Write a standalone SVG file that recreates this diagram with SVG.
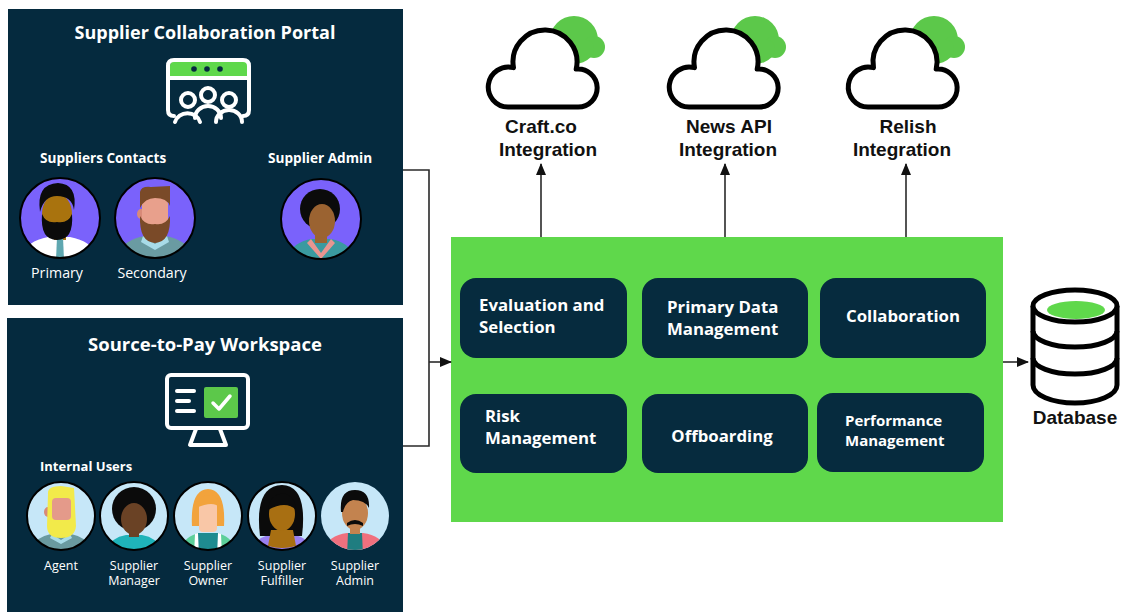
<svg xmlns="http://www.w3.org/2000/svg" width="1125" height="612" viewBox="0 0 1125 612">
  <style>
    .panel { fill: #052a3e; }
    .module { fill: #062b3e; }
    .ttl { font-family: "Open Sans", "Noto Sans", sans-serif; font-weight: 700; fill: #ffffff; }
    .lbl { font-family: "Open Sans", "Noto Sans", sans-serif; font-weight: 400; fill: #ffffff; font-size: 12.5px; text-anchor: middle; }
    .mod { font-family: "Open Sans", "Noto Sans", sans-serif; font-weight: 700; fill: #ffffff; font-size: 16.8px; }
    .ext { font-family: "Liberation Sans", Arial, sans-serif; font-weight: 700; fill: #111111; font-size: 19px; text-anchor: middle; }
    .wire { fill: none; stroke: #2a2a2a; stroke-width: 1.6; }
    .ring { fill: none; stroke: #000000; stroke-width: 2; }
    .icon { fill: none; stroke: #ffffff; stroke-width: 4; stroke-linecap: round; stroke-linejoin: round; }
    .cloud { fill: #ffffff; stroke: #000000; stroke-width: 5; stroke-linejoin: round; }
    .cloud-bg { fill: #5cc84a; }
  </style>
  <defs>
    <marker id="arrow" viewBox="0 0 12 10" refX="11" refY="5" markerWidth="12" markerHeight="10" markerUnits="userSpaceOnUse" orient="auto">
      <path d="M0,0 L12,5 L0,10 Z" fill="#111111"/>
    </marker>
    <clipPath id="clipL"><circle cx="0" cy="0" r="40"/></clipPath>
    <clipPath id="clipS"><circle cx="0" cy="0" r="34"/></clipPath>
    <!-- integration cloud, drawn around x = 0 -->
    <g id="cloudIcon">
      <circle class="cloud-bg" cx="33" cy="40" r="24"/>
      <circle class="cloud-bg" cx="53" cy="47" r="11"/>
      <rect class="cloud-bg" x="-3" y="40" width="56" height="18" rx="8"/>
      <path class="cloud" d="M-33,107 A20,20 0 1 1 -27.5,67.7 A32,32 0 1 1 35.2,69.1 A19,19 0 1 1 37,107 Z"/>
    </g>
  </defs>

  <rect width="1125" height="612" fill="#ffffff"/>

  <!-- Supplier Collaboration Portal -->
  <g id="portal">
    <rect class="panel" x="8" y="9" width="395" height="296"/>
    <text class="ttl" x="205" y="39" font-size="18" text-anchor="middle">Supplier Collaboration Portal</text>
    <!-- browser window with people -->
    <path d="M170,78 L170,66 Q170,61 175,61 L243,61 Q248,61 248,66 L248,78 Z" fill="#5fd84b"/>
    <circle cx="194" cy="69" r="2.8" fill="#052a3e"/>
    <circle cx="207" cy="69" r="2.8" fill="#052a3e"/>
    <circle cx="220" cy="69" r="2.8" fill="#052a3e"/>
    <path class="icon" d="M174,116 Q168,116 168,110 L168,66 Q168,60 174,60 L243,60 Q249,60 249,66 L249,110 Q249,116 243,116"/>
    <line class="icon" x1="168" y1="78" x2="249" y2="78"/>
    <circle class="icon" cx="188" cy="100" r="7" stroke-width="3.5"/>
    <circle class="icon" cx="208" cy="95" r="7" stroke-width="3.5"/>
    <circle class="icon" cx="229" cy="100" r="7" stroke-width="3.5"/>
    <path class="icon" stroke-width="3.5" d="M175,122 A13,12 0 0 1 200,122"/>
    <path class="icon" stroke-width="3.5" d="M195,118 A13,12 0 0 1 221,118"/>
    <path class="icon" stroke-width="3.5" d="M216,122 A13,12 0 0 1 242,122"/>

    <text class="ttl" x="40" y="163" font-size="13.6">Suppliers Contacts</text>
    <text class="ttl" x="268" y="163" font-size="13.6">Supplier Admin</text>

    <!-- Primary contact -->
    <g id="av-primary" transform="translate(60,218)">
      <g clip-path="url(#clipL)">
        <circle r="41" fill="#7a62fb"/>
        <path d="M-40,45 Q-38,24 -12,19 L10,19 Q36,24 40,45 Z" fill="#ffffff"/>
        <rect x="-6" y="8" width="12" height="14" fill="#a9730e"/>
        <path d="M-3,19 L3,19 L4,42 L-4,42 Z" fill="#5fa7b0"/>
        <ellipse cx="-3" cy="-4" rx="15" ry="20" fill="#a9730e"/>
        <path d="M-18,-4 Q-20,22 -3,22 Q14,22 12,-4 Q8,6 -3,4 Q-14,6 -18,-4 Z" fill="#0b0b0b"/>
        <path d="M-20,-6 Q-24,-34 -2,-35 Q18,-34 14,-8 Q12,-22 -3,-22 Q-16,-22 -20,-6 Z" fill="#0b0b0b"/>
      </g>
      <circle class="ring" r="40"/>
    </g>
    <!-- Secondary contact -->
    <g id="av-secondary" transform="translate(155,218)">
      <g clip-path="url(#clipL)">
        <circle r="41" fill="#7a62fb"/>
        <path d="M-40,45 Q-36,22 -10,18 L10,18 Q36,22 40,45 Z" fill="#6a9ba2"/>
        <path d="M-12,18 L0,26 L12,18 L14,24 L0,32 L-14,24 Z" fill="#a8dbe8"/>
        <ellipse cx="-14" cy="-4" rx="4" ry="5" fill="#d88a78"/>
        <rect x="-13" y="-20" width="26" height="36" rx="6" fill="#e8a08c"/>
        <path d="M-15,-10 L-15,-26 Q-14,-32 -4,-31 L15,-32 L15,-12 Q12,-20 0,-20 Q-10,-20 -15,-10 Z" fill="#7a4a28"/>
        <path d="M-15,-2 Q-16,24 0,25 Q16,24 15,-2 Q10,8 0,6 Q-10,8 -15,-2 Z" fill="#7a4a28"/>
      </g>
      <circle class="ring" r="40"/>
    </g>
    <!-- Supplier admin -->
    <g id="av-supplier-admin" transform="translate(321,219)">
      <g clip-path="url(#clipL)">
        <circle r="41" fill="#7a62fb"/>
        <path d="M-36,45 Q-32,24 -10,20 L10,20 Q32,24 36,45 Z" fill="#3a9aa0"/>
        <path d="M-10,20 L0,34 L10,20 L14,24 L0,40 L-14,24 Z" fill="#e89590"/>
        <rect x="-6" y="8" width="12" height="16" fill="#9b6331"/>
        <circle cx="-1" cy="-10" r="20" fill="#0b0b0b"/>
        <ellipse cx="1" cy="2" rx="13" ry="17" fill="#9b6331"/>
      </g>
      <circle class="ring" r="40"/>
    </g>
    <text class="lbl" x="57" y="278" style="font-size:14.2px">Primary</text>
    <text class="lbl" x="152" y="278" style="font-size:14.2px">Secondary</text>
  </g>

  <!-- Source-to-Pay Workspace -->
  <g id="workspace">
    <rect class="panel" x="7" y="318" width="396" height="294"/>
    <text class="ttl" x="205" y="351" font-size="18.5" text-anchor="middle">Source-to-Pay Workspace</text>
    <!-- monitor with checklist -->
    <rect class="icon" x="167" y="375" width="81" height="53" rx="4"/>
    <path class="icon" d="M196,429 L190,445 L226,445 L220,429"/>
    <line class="icon" x1="177" y1="391" x2="194" y2="391"/>
    <line class="icon" x1="177" y1="401" x2="189" y2="401"/>
    <line class="icon" x1="177" y1="411" x2="194" y2="411"/>
    <rect x="204" y="387" width="34" height="31" rx="2" fill="#5cc84a"/>
    <path d="M213,403 L219,409 L230,396" fill="none" stroke="#ffffff" stroke-width="3.5" stroke-linecap="round" stroke-linejoin="round"/>

    <text class="ttl" x="40" y="471" font-size="13">Internal Users</text>

    <g id="av-agent" transform="translate(61,516)">
      <g clip-path="url(#clipS)">
        <circle r="35" fill="#c6e7f8"/>
        <path d="M-34,40 Q-30,22 -10,18 L10,18 Q30,22 34,40 Z" fill="#6a9aa0"/>
        <path d="M-9,18 L0,24 L9,18 L11,22 L0,28 L-11,22 Z" fill="#a8dbe8"/>
        <ellipse cx="-13" cy="-4" rx="4" ry="5" fill="#d88a78"/>
        <path d="M-13,-22 Q-14,-30 0,-30 L13,-28 L15,10 Q14,22 0,22 Q-14,22 -14,10 Z" fill="#f2ea4a"/>
        <rect x="-9" y="-18" width="19" height="22" rx="4" fill="#e49a8a"/>
      </g>
      <circle class="ring" r="34"/>
    </g>
    <g id="av-manager" transform="translate(134,516)">
      <g clip-path="url(#clipS)">
        <circle r="35" fill="#c6e7f8"/>
        <path d="M-30,40 Q-26,22 -8,19 L8,19 Q26,22 30,40 Z" fill="#1fb3b9"/>
        <circle cx="0" cy="-7" r="22" fill="#0b0b0b"/>
        <rect x="-5" y="8" width="10" height="13" fill="#6a4225"/>
        <ellipse cx="0" cy="3" rx="13" ry="16" fill="#6a4225"/>
      </g>
      <circle class="ring" r="34"/>
    </g>
    <g id="av-owner" transform="translate(208,516)">
      <g clip-path="url(#clipS)">
        <circle r="35" fill="#c6e7f8"/>
        <path d="M-30,40 Q-26,20 -8,17 L8,17 Q26,20 30,40 Z" fill="#5ccf9a"/>
        <path d="M-10,17 L10,17 L12,40 L-12,40 Z" fill="#1f8b90"/>
        <path d="M-13,18 L-10,17 L-9,40 L-14,40 Z M13,18 L10,17 L9,40 L14,40 Z" fill="#ffffff"/>
        <path d="M-16,10 Q-18,-26 0,-27 Q18,-26 16,10 Z" fill="#f2a33c"/>
        <rect x="-9" y="-14" width="18" height="30" rx="4" fill="#f9c7a7"/>
        <path d="M-12,-8 Q-10,-22 4,-21 Q12,-18 12,-8 Q6,-16 -12,-8 Z" fill="#f2a33c"/>
      </g>
      <circle class="ring" r="34"/>
    </g>
    <g id="av-fulfiller" transform="translate(282,516)">
      <g clip-path="url(#clipS)">
        <circle r="35" fill="#c6e7f8"/>
        <path d="M-32,40 Q-28,20 -8,18 L8,18 Q28,20 32,40 Z" fill="#9a80f0"/>
        <path d="M-22,20 Q-28,-30 0,-31 Q26,-30 20,20 Z" fill="#0b0b0b"/>
        <path d="M-11,14 L11,14 L14,30 Q0,34 -14,30 Z" fill="#a86f12"/>
        <ellipse cx="0" cy="-2" rx="13" ry="17" fill="#a86f12"/>
        <path d="M-14,-6 Q-12,-24 4,-22 Q14,-18 14,-6 Q4,-16 -14,-6 Z" fill="#0b0b0b"/>
      </g>
      <circle class="ring" r="34"/>
    </g>
    <g id="av-admin" transform="translate(355,516)">
      <g clip-path="url(#clipS)">
        <circle r="35" fill="#c6e7f8"/>
        <path d="M-34,40 Q-30,20 -8,17 L8,17 Q30,20 34,40 Z" fill="#f0707e"/>
        <path d="M-7,17 L7,17 L8,40 L-8,40 Z" fill="#1f7d80"/>
        <rect x="-5" y="6" width="10" height="12" fill="#c3834f"/>
        <ellipse cx="0" cy="-3" rx="13" ry="17" fill="#c3834f"/>
        <path d="M-14,-4 Q-16,-26 0,-26 Q15,-26 14,-8 Q10,-16 -2,-16 Q-10,-14 -12,-4 Z" fill="#0b0b0b"/>
        <path d="M-8,7 Q0,1 8,7 L8,10 Q0,6 -8,10 Z" fill="#0b0b0b"/>
      </g>
    </g>
    <text class="lbl" x="61" y="570">Agent</text>
    <text class="lbl" x="134" y="570">Supplier</text>
    <text class="lbl" x="134" y="585">Manager</text>
    <text class="lbl" x="208" y="570">Supplier</text>
    <text class="lbl" x="208" y="585">Owner</text>
    <text class="lbl" x="282" y="570">Supplier</text>
    <text class="lbl" x="282" y="585">Fulfiller</text>
    <text class="lbl" x="355" y="570">Supplier</text>
    <text class="lbl" x="355" y="585">Admin</text>
  </g>

  <!-- Supplier management modules -->
  <g id="platform">
    <rect x="451" y="237" width="552" height="285" fill="#5fd84b"/>
  </g>
  <g id="mod-evaluation">
    <rect class="module" x="460" y="278" width="167" height="80" rx="16"/>
    <text class="mod" x="479" y="311">Evaluation and</text>
    <text class="mod" x="479" y="333">Selection</text>
  </g>
  <g id="mod-primary-data">
    <rect class="module" x="642" y="278" width="166" height="80" rx="16"/>
    <text class="mod" x="667" y="313">Primary Data</text>
    <text class="mod" x="667" y="335">Management</text>
  </g>
  <g id="mod-collaboration">
    <rect class="module" x="820" y="278" width="166" height="80" rx="16"/>
    <text class="mod" x="903" y="322" text-anchor="middle">Collaboration</text>
  </g>
  <g id="mod-risk">
    <rect class="module" x="460" y="394" width="167" height="79" rx="16"/>
    <text class="mod" x="485" y="422">Risk</text>
    <text class="mod" x="485" y="444">Management</text>
  </g>
  <g id="mod-offboarding">
    <rect class="module" x="642" y="394" width="166" height="79" rx="16"/>
    <text class="mod" x="722" y="442" text-anchor="middle">Offboarding</text>
  </g>
  <g id="mod-performance">
    <rect class="module" x="817" y="393" width="167" height="79" rx="16"/>
    <text class="mod" x="845" y="426" style="font-size:15px">Performance</text>
    <text class="mod" x="845" y="446" style="font-size:15px">Management</text>
  </g>

  <!-- External integrations -->
  <g id="int-craft">
    <use href="#cloudIcon" transform="translate(541,0)"/>
    <text class="ext" x="541" y="133">Craft.co</text>
    <text class="ext" x="548" y="156">Integration</text>
  </g>
  <g id="int-news">
    <use href="#cloudIcon" transform="translate(722,0)"/>
    <text class="ext" x="729" y="133">News API</text>
    <text class="ext" x="728" y="156">Integration</text>
  </g>
  <g id="int-relish">
    <use href="#cloudIcon" transform="translate(901,0)"/>
    <text class="ext" x="908" y="133">Relish</text>
    <text class="ext" x="902" y="156">Integration</text>
  </g>

  <!-- Database -->
  <g id="database">
    <path d="M1033,306 L1033,385 A42,18 0 0 0 1117,385 L1117,306" fill="#ffffff" stroke="#000000" stroke-width="5" stroke-linejoin="round"/>
    <ellipse cx="1075" cy="306" rx="42" ry="16" fill="#ffffff" stroke="#000000" stroke-width="5"/>
    <ellipse cx="1076" cy="310" rx="29" ry="9" fill="#5fd84b"/>
    <path d="M1033,331 A42,16 0 0 0 1117,331" fill="none" stroke="#000000" stroke-width="5"/>
    <path d="M1033,358 A42,16 0 0 0 1117,358" fill="none" stroke="#000000" stroke-width="5"/>
    <text class="ext" x="1075" y="424" font-size="18">Database</text>
  </g>

  <!-- Connectors -->
  <g id="connectors">
    <polyline class="wire" points="403,170 429,170 429,446 403,446"/>
    <line class="wire" x1="429" y1="362" x2="451" y2="362" marker-end="url(#arrow)"/>
    <line class="wire" x1="541" y1="237" x2="541" y2="164" marker-end="url(#arrow)"/>
    <line class="wire" x1="725" y1="237" x2="725" y2="164" marker-end="url(#arrow)"/>
    <line class="wire" x1="906" y1="237" x2="906" y2="164" marker-end="url(#arrow)"/>
    <line class="wire" x1="1003" y1="362" x2="1028" y2="362" marker-end="url(#arrow)"/>
  </g>
</svg>
